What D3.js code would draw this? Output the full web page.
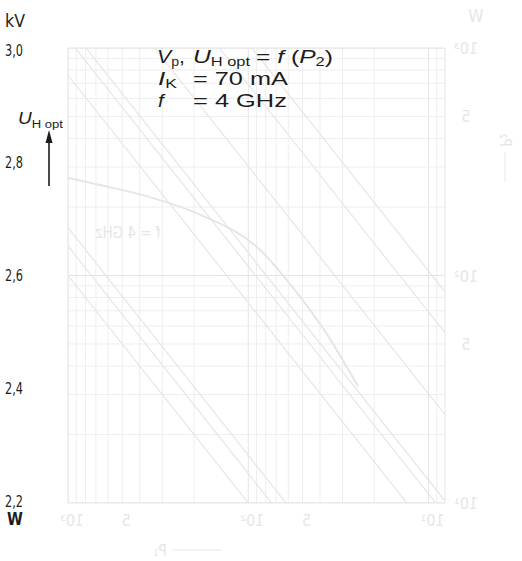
<!DOCTYPE html>
<html>
<head>
<meta charset="utf-8">
<script src="https://cdn.jsdelivr.net/npm/d3@7"></script>
<style>
  body { margin: 0; background: #fff; }
  svg text { font-family: "Liberation Sans", Arial, sans-serif; fill: #1c1c1c; }
  .narrow, .tick text { font-family: "Liberation Sans Narrow", "DejaVu Sans Condensed", sans-serif; }
  .ghost { fill: #e6e6e6 !important; }
</style>
</head>
<body>
<div id="chart"></div>
<script>
// U_H opt = f(P2) chart, scanned datasheet page - grid printed very faint
// =====================================================================

var kvTicks = [2.2, 2.4, 2.6, 2.8, 3.0];

// curve U_H opt over P2 (W), f = 4 GHz  (very faint in scan)
var curveP = [10, 15, 28, 54, 115, 170, 260, 400];
var curveU = [2.77, 2.757, 2.736, 2.704, 2.642, 2.58, 2.5, 2.4];

// gain lines that show through the grid (dB)
var gainLines = [20, 21.3, 22.1, 28.8, 30.4, 31, 34.8, 38.4, 40.2];

// faint log labels (show-through, mirrored)
var xLogLabels = [1000, 500, 100, 50, 10];
var yLogLabels = [1000, 500, 100, 50, 10];

var width = 522,
    height = 561;

var frame = {left: 68, right: 445, top: 48, bottom: 503};

var svg = d3.select("#chart").append("svg")
    .attr("width", width)
    .attr("height", height);

// scales
var kvY = d3.scaleLinear().domain([2.2, 3.0]).range([499, 48]);
var gridX = d3.scaleLog().domain([8.1, 1000]).range([frame.right, frame.left]);   // runs right-to-left
var gridY = d3.scaleLog().domain([10, 1000]).range([frame.bottom, frame.top]);
var frontX = d3.scaleLog().domain([10, 1000]).range([frame.left, 430]);

// stretch a text horizontally so it spans x0..x1 (scan letters are wide)
function fit(sel, x0, x1) {
  var w = sel.node().getBBox().width;
  var s = (x1 - x0) / w;
  sel.attr("transform", "translate(" + x0 + ",0) scale(" + s + ",1) translate(" + (-x0) + ",0)");
  return sel;
}

svg.append("clipPath").attr("id", "plotclip")
  .append("rect")
    .attr("x", frame.left).attr("y", frame.top)
    .attr("width", frame.right - frame.left)
    .attr("height", frame.bottom - frame.top);

var faint = svg.append("g").attr("clip-path", "url(#plotclip)");

// vertical grid lines
faint.selectAll("line.vx")
    .data(gridX.ticks())
    .enter().append("line")
    .attr("class", "vx")
    .attr("x1", d => gridX(d)).attr("x2", d => gridX(d))
    .attr("y1", frame.top).attr("y2", frame.bottom)
    .attr("stroke", d => (Math.log10(d) % 1 === 0) ? "#e4e4e4" : "#eeeeee")
    .attr("stroke-width", 1);

// horizontal grid lines
faint.selectAll("line.hy")
    .data(gridY.ticks())
    .enter().append("line")
    .attr("class", "hy")
    .attr("y1", d => gridY(d)).attr("y2", d => gridY(d))
    .attr("x1", frame.left).attr("x2", frame.right)
    .attr("stroke", d => (Math.log10(d) % 1 === 0) ? "#e4e4e4" : "#eeeeee")
    .attr("stroke-width", 1);

// gain lines  V = P1/1000 * 10^(G/10)
faint.selectAll("line.gain")
    .data(gainLines)
    .enter().append("line")
    .attr("class", "gain")
    .attr("x1", gridX(8.1)).attr("x2", gridX(1000))
    .attr("y1", d => gridY(8.1 / 1000 * Math.pow(10, d / 10)))
    .attr("y2", d => gridY(1000 / 1000 * Math.pow(10, d / 10)))
    .attr("stroke", "#e6e6e6")
    .attr("stroke-width", 1.2);

// curve
var curve = d3.line()
    .x(d => frontX(d[0]))
    .y(d => kvY(d[1]))
    .curve(d3.curveMonotoneX);

faint.append("path")
    .datum(curveP.map((p, i) => [p, curveU[i]]))
    .attr("d", curve)
    .attr("fill", "none")
    .attr("stroke", "#e6e6e6")
    .attr("stroke-width", 2);

// frame
svg.append("rect")
    .attr("x", frame.left).attr("y", frame.top)
    .attr("width", frame.right - frame.left)
    .attr("height", frame.bottom - frame.top)
    .attr("fill", "none")
    .attr("stroke", "#e6e6e6");

// mirrored show-through labels
function ghost(txt, x, y, size, rot) {
  svg.append("text")
      .attr("class", "ghost narrow")
      .attr("transform", "translate(" + x + "," + y + ") scale(-1,1)" + (rot ? " rotate(" + rot + ")" : ""))
      .attr("text-anchor", "middle")
      .attr("font-size", size)
      .text(txt);
}
function logLabel(d) {
  if (d === 1000) return "10³";
  if (d === 100) return "10²";
  if (d === 10) return "10¹";
  return "5";
}
xLogLabels.forEach(d => ghost(logLabel(d), gridX(d) + 4, 526, 16));
yLogLabels.forEach(d => ghost(logLabel(d), 466, gridY(d) + 6, 16));
ghost("W", 476, 22, 17);
ghost("f = 4 GHz", 128, 238, 15);
ghost("P₂", 500, 140, 15, -90);
ghost("P₁", 160, 556, 15);
svg.append("line").attr("x1", 505).attr("x2", 505).attr("y1", 152).attr("y2", 182).attr("stroke", "#e8e8e8");
svg.append("line").attr("x1", 172).attr("x2", 222).attr("y1", 550).attr("y2", 550).attr("stroke", "#e8e8e8");

// left axis
var yAxis = d3.axisLeft(kvY)
    .tickValues(kvTicks)
    .tickFormat(d => d.toFixed(1).replace(".", ","))
    .tickSize(0)
    .tickPadding(0);

var ax = svg.append("g")
    .attr("transform", "translate(5,0)")
    .call(yAxis);
ax.select(".domain").remove();
ax.selectAll("text")
    .attr("font-size", 16)
    .attr("text-anchor", "start")
    .attr("x", 0)
    .attr("dy", "0.45em")
    .attr("fill", "#1c1c1c");
ax.selectAll("text").each(function() { fit(d3.select(this), 0, 18); });

fit(svg.append("text").attr("class", "narrow")
    .attr("x", 5).attr("y", 27)
    .attr("font-size", 18)
    .text("kV"), 5, 25);

fit(svg.append("text").attr("class", "narrow")
    .attr("x", 7).attr("y", 525)
    .attr("font-size", 18)
    .attr("font-weight", "bold")
    .text("W"), 7, 23);

// U_H opt label and arrow
var ul = svg.append("text").attr("x", 18).attr("y", 124).attr("font-size", 16);
ul.append("tspan").attr("font-style", "italic").text("U");
ul.append("tspan").attr("font-size", 11).attr("dy", 4).text("H opt");
fit(ul, 18, 63);

svg.append("line")
    .attr("x1", 49).attr("x2", 49)
    .attr("y1", 186).attr("y2", 140)
    .attr("stroke", "#1c1c1c").attr("stroke-width", 1.6);
svg.append("path")
    .attr("d", "M49,130L45.5,143L52.5,143Z")
    .attr("fill", "#1c1c1c");

// parameter block
var fs = 18;
function seg(x, y) {
  return svg.append("text").attr("x", x).attr("y", y).attr("font-size", fs);
}
var a = seg(157, 63);
a.append("tspan").attr("font-style", "italic").text("V");
a.append("tspan").attr("font-size", 12).attr("dy", 3).text("p");
a.append("tspan").attr("dy", -3).text(",");
fit(a, 157, 185);

var b = seg(193, 63);
b.append("tspan").attr("font-style", "italic").text("U");
b.append("tspan").attr("font-size", 12).attr("dy", 3).text("H opt");
fit(b, 193, 251);

var c = seg(256, 63);
c.append("tspan").text("= ");
c.append("tspan").attr("font-style", "italic").text("f");
c.append("tspan").text(" (");
c.append("tspan").attr("font-style", "italic").text("P");
c.append("tspan").attr("font-size", 12).attr("dy", 3).text("2");
c.append("tspan").attr("dy", -3).text(")");
fit(c, 256, 333);

var d2 = seg(158, 85);
d2.append("tspan").attr("font-style", "italic").text("I");
d2.append("tspan").attr("font-size", 12).attr("dy", 3).text("K");
fit(d2, 158, 177);
fit(seg(193, 85).text("= 70 mA"), 193, 288);

fit(seg(158, 107).attr("font-style", "italic").text("f"), 158, 166);
fit(seg(193, 107).text("= 4 GHz"), 193, 287);
</script>
</body>
</html>
